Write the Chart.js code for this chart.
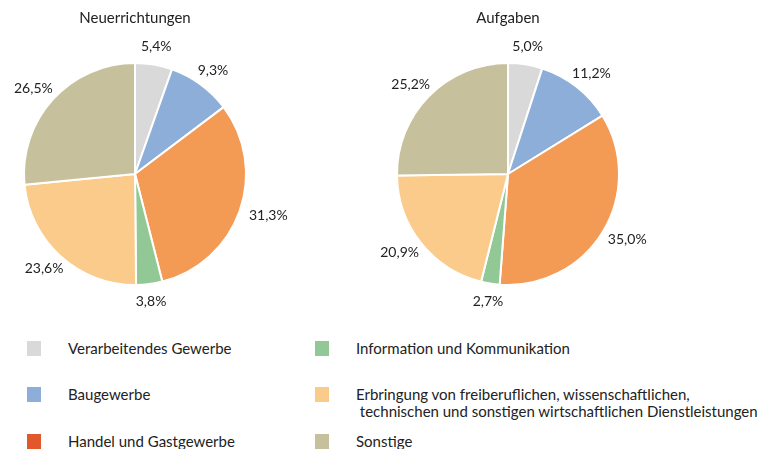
<!DOCTYPE html>
<html>
<head>
<meta charset="utf-8">
<script src="https://cdn.jsdelivr.net/npm/chart.js@4"></script>
<style>
  body { margin: 0; background: #fff; font-family: Lato, sans-serif; color: #222; }
  #wrap { position: relative; width: 757px; height: 449px; overflow: hidden; }
  #c1 { position: absolute; left: 0; top: 0; }
  #c2 { position: absolute; left: 350px; top: 0; }
  .item { position: absolute; font-size: 15px; line-height: 17px; }
  .box { position: absolute; width: 14px; height: 15px; }
</style>
</head>
<body>
<div id="wrap">
  <canvas id="c1" width="300" height="320"></canvas>
  <canvas id="c2" width="340" height="320"></canvas>
  <div id="legend"></div>
</div>
<script>
// Branchen
var categories = [
  'Verarbeitendes Gewerbe',
  'Baugewerbe',
  'Handel und Gastgewerbe',
  'Information und Kommunikation',
  'Erbringung von freiberuflichen, wissenschaftlichen,\n technischen und sonstigen wirtschaftlichen Dienstleistungen',
  'Sonstige'
];
// Anteile in %
var neuerrichtungen = [5.4, 9.3, 31.3, 3.8, 23.6, 26.5];
var aufgaben = [5.0, 11.2, 35.0, 2.7, 20.9, 25.2];

var sliceColors = ['#D9D9DA', '#8DAED8', '#F39A55', '#92C896', '#FACB8B', '#C6C19C'];
var legendColors = ['#D9D9DA', '#8DAED8', '#E2572B', '#92C896', '#FACB8B', '#C6C19C'];

// Prozent-Beschriftung ausserhalb der Segmente
var outsideLabels = {
  id: 'outsideLabels',
  afterDatasetsDraw: function (chart) {
    var ctx = chart.ctx;
    var meta = chart.getDatasetMeta(0);
    var data = chart.data.datasets[0].data;
    ctx.save();
    ctx.font = '14px Lato, sans-serif';
    ctx.fillStyle = '#222';
    ctx.textAlign = 'center';
    ctx.textBaseline = 'middle';
    meta.data.forEach(function (arc, i) {
      var p = arc.getProps(['x', 'y', 'startAngle', 'endAngle', 'outerRadius'], true);
      var a = (p.startAngle + p.endAngle) / 2;
      var txt = data[i].toFixed(1).replace('.', ',') + '%';
      var w = ctx.measureText(txt).width;
      var r = p.outerRadius + 12;
      var x = p.x + Math.cos(a) * (r + w / 2 * Math.abs(Math.cos(a)));
      var y = p.y + Math.sin(a) * (r + 6 * Math.abs(Math.sin(a)));
      ctx.fillText(txt, x, y);
    });
    ctx.restore();
  }
};

function makePie(id, title, values, padLeft, padRight) {
  return new Chart(document.getElementById(id), {
    type: 'pie',
    data: {
      labels: categories,
      datasets: [{
        data: values,
        backgroundColor: sliceColors,
        borderColor: '#fff',
        borderWidth: 2
      }]
    },
    options: {
      responsive: false,
      animation: false,
      radius: 111,
      layout: { padding: { left: padLeft, right: padRight, top: 0, bottom: 35 } },
      plugins: {
        legend: { display: false },
        tooltip: { enabled: false },
        title: {
          display: true,
          text: title,
          color: '#222',
          font: { family: 'Lato, sans-serif', size: 15, weight: 'normal' },
          padding: { top: 9, bottom: 36 }
        }
      }
    },
    plugins: [outsideLabels]
  });
}

makePie('c1', 'Neuerrichtungen', neuerrichtungen, 10, 40);
makePie('c2', 'Aufgaben', aufgaben, 10, 34);

// Legende (2 Spalten, 3 Zeilen)
var legend = document.getElementById('legend');
var colX = [27, 315];
var rowY = [341, 387, 434];
categories.forEach(function (cat, i) {
  var col = i < 3 ? 0 : 1;
  var row = i % 3;
  var box = document.createElement('div');
  box.className = 'box';
  box.style.left = colX[col] + 'px';
  box.style.top = rowY[row] + 'px';
  box.style.background = legendColors[i];
  legend.appendChild(box);
  var t = document.createElement('div');
  t.className = 'item';
  t.style.left = (colX[col] + 41) + 'px';
  t.style.top = (rowY[row] - 1) + 'px';
  t.style.whiteSpace = 'pre';
  t.textContent = cat;
  legend.appendChild(t);
});
</script>
</body>
</html>
